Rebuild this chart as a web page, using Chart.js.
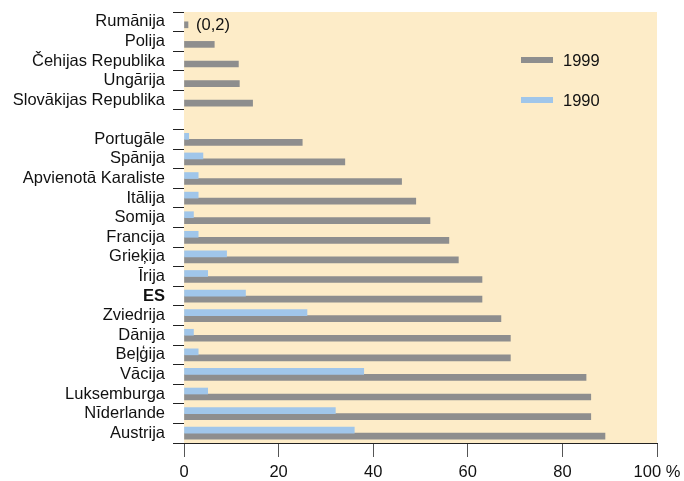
<!DOCTYPE html>
<html>
<head>
<meta charset="utf-8">
<script src="https://cdn.jsdelivr.net/npm/chart.js@4"></script>
<style>
html, body { margin: 0; padding: 0; background: #fff; }
#wrap { width: 684px; height: 481px; }
</style>
</head>
<body>
<div id="wrap"><canvas id="chart"></canvas></div>
<script>
const countries = [
    "Rumānija", "Polija", "Čehijas Republika", "Ungārija", "Slovākijas Republika", "",
    "Portugāle", "Spānija", "Apvienotā Karaliste", "Itālija", "Somija", "Francija",
    "Grieķija", "Īrija", "ES", "Zviedrija", "Dānija", "Beļģija", "Vācija",
    "Luksemburga", "Nīderlande", "Austrija"
];

const y1999 = [0.2, 6.4, 11.5, 11.7, 14.5, null, 25, 34, 46, 49, 52, 56, 58, 63, 63, 67, 69, 69, 85, 86, 86, 89];
const y1990 = [null, null, null, null, null, null, 1, 4, 3, 3, 2, 3, 9, 5, 13, 26, 2, 3, 38, 5, 32, 36];

const xTicks = [0, 20, 40, 60, 80, 100];
const noteLabel = "(0,2)";

const GRAY = "#8e8e8e";
const BLUE = "#a0c6ea";
const BG = "#fdecc8";
const FONT = "Liberation Sans, Arial, sans-serif";
const FSIZE = 16.5;

// plot background + legend + small note
const decor = {
    id: "decor",
    beforeDatasetsDraw(c) {
        const a = c.chartArea;
        const ctx = c.ctx;
        ctx.save();
        ctx.fillStyle = BG;
        ctx.fillRect(a.left, a.top, a.right - a.left, a.bottom - a.top);
        ctx.restore();
    },
    afterDatasetsDraw(c) {
        const a = c.chartArea;
        const ctx = c.ctx;
        ctx.save();
        ctx.font = FSIZE + "px " + FONT;
        ctx.textBaseline = "middle";
        ctx.fillStyle = "#111";

        // legend, 1999 first
        const items = [[c.data.datasets[1], 48], [c.data.datasets[0], 88]];
        items.forEach(([ds, dy]) => {
            ctx.fillStyle = ds.backgroundColor;
            ctx.fillRect(a.left + 337, a.top + dy - 3, 32, 6);
            ctx.fillStyle = "#111";
            ctx.fillText(ds.label, a.left + 379, a.top + dy + 1);
        });

        // note next to the tiny Romania bar
        const bar = c.getDatasetMeta(1).data[0];
        ctx.fillText(noteLabel, bar.x + 8, bar.y + 1);
        ctx.restore();
    }
};

new Chart(document.getElementById("chart"), {
    type: "bar",
    data: {
        labels: countries,
        datasets: [
            {
                label: "1990",
                data: y1990,
                backgroundColor: BLUE
            },
            {
                label: "1999",
                data: y1999,
                backgroundColor: GRAY
            }
        ]
    },
    options: {
        indexAxis: "y",
        responsive: true,
        maintainAspectRatio: false,
        animation: false,
        barThickness: 6,
        minBarLength: 4,
        layout: {
            padding: { top: 12, right: 27, bottom: 0, left: 0 }
        },
        plugins: {
            legend: { display: false },
            tooltip: { enabled: false }
        },
        scales: {
            y: {
                grid: {
                    drawOnChartArea: false,
                    tickLength: 11,
                    color: "#222",
                    offset: true
                },
                border: { color: "#222", width: 1 },
                ticks: {
                    padding: 8,
                    color: "#111",
                    autoSkip: false,
                    font: ctx => ({
                        family: FONT,
                        size: FSIZE,
                        weight: ctx.tick && ctx.tick.label === "ES" ? "bold" : "normal"
                    })
                },
                afterFit(scale) {
                    scale.width = 184;
                    scale.paddingTop = 0;
                    scale.paddingBottom = 0;
                }
            },
            x: {
                min: 0,
                max: 100,
                afterBuildTicks(scale) {
                    scale.ticks = xTicks.map(v => ({ value: v }));
                },
                grid: {
                    drawOnChartArea: false,
                    tickLength: 14,
                    color: "#555"
                },
                border: { color: "#222", width: 1 },
                ticks: {
                    padding: 6,
                    color: "#111",
                    font: { family: FONT, size: FSIZE },
                    callback: v => v === 100 ? "100 %" : v
                },
                afterFit(scale) {
                    scale.height = 38;
                    scale.paddingLeft = 0;
                    scale.paddingRight = 0;
                }
            }
        }
    },
    plugins: [decor]
});
</script>
</body>
</html>
